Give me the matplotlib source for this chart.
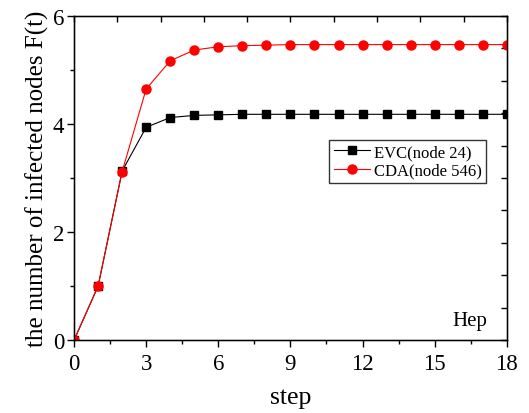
import matplotlib
matplotlib.use("Agg")
import matplotlib.pyplot as plt
from matplotlib.ticker import MultipleLocator

plt.rcParams['font.family'] = ['Liberation Serif', 'DejaVu Serif']
plt.rcParams['mathtext.fontset'] = 'stix'

steps = list(range(19))
evc = [0, 1.0, 3.13, 3.94, 4.12, 4.16, 4.17, 4.18, 4.18, 4.18, 4.18, 4.18, 4.18, 4.18, 4.18, 4.18, 4.18, 4.18, 4.18]
cda = [0, 1.0, 3.12, 4.65, 5.17, 5.37, 5.43, 5.45, 5.46, 5.47, 5.47, 5.47, 5.47, 5.47, 5.47, 5.47, 5.47, 5.47, 5.47]
xticks = [0, 3, 6, 9, 12, 15, 18]
yticks = [0, 2, 4, 6]

fig = plt.figure(figsize=(5.29, 4.14), dpi=100)
ax = fig.add_axes([0.140, 0.176, 0.818, 0.783])

ax.plot(steps, evc, color='black', lw=0.8, marker='s', ms=5.5, label='EVC(node 24)')
ax.plot(steps, cda, color='red', lw=0.8, marker='o', ms=6.5, label='CDA(node 546)')

ax.set_xlim(0, 18)
ax.set_ylim(0, 6)
ax.set_xticks(xticks)
ax.set_yticks(yticks)
ax.xaxis.set_minor_locator(MultipleLocator(1.5))
ax.yaxis.set_minor_locator(MultipleLocator(1))
ax.tick_params(which='major', direction='out', length=5, width=1, labelsize=16.5)
ax.tick_params(axis='x', which='major', pad=4)
ax.tick_params(axis='y', which='major', pad=2)
ax.tick_params(which='minor', direction='out', length=3, width=1)
for s in ax.spines.values():
    s.set_linewidth(1)

# top / right axes with 10 divisions, ticks pointing inward
ax2 = ax.twiny()
ax2.set_xlim(0, 18)
ax2.set_xticks([i * 1.8 for i in range(11)])
ax2.tick_params(axis='x', direction='in', length=4, width=1, labeltop=False)
ax3 = ax.twinx()
ax3.set_ylim(0, 6)
ax3.set_yticks([i * 0.6 for i in range(11)])
ax3.tick_params(axis='y', direction='in', length=4, width=1, labelright=False)

ax.set_xlabel('step', fontsize=18.5, labelpad=9)
ax.set_ylabel('the number of infected nodes F(t)', fontsize=18, labelpad=3)
ax.text(0.955, 0.062, 'Hep', transform=ax.transAxes, fontsize=15, ha='right', va='center')

leg = ax.legend(loc='upper left', bbox_to_anchor=(0.59, 0.617), fontsize=12, frameon=True,
                fancybox=False, edgecolor='black', borderpad=0.25, handlelength=2.2,
                handletextpad=0.2, labelspacing=0.15, borderaxespad=0)
leg.get_frame().set_linewidth(1)
ax.set_zorder(ax3.zorder + 1)
ax.patch.set_visible(False)

fig.savefig('out.png', dpi=100)
